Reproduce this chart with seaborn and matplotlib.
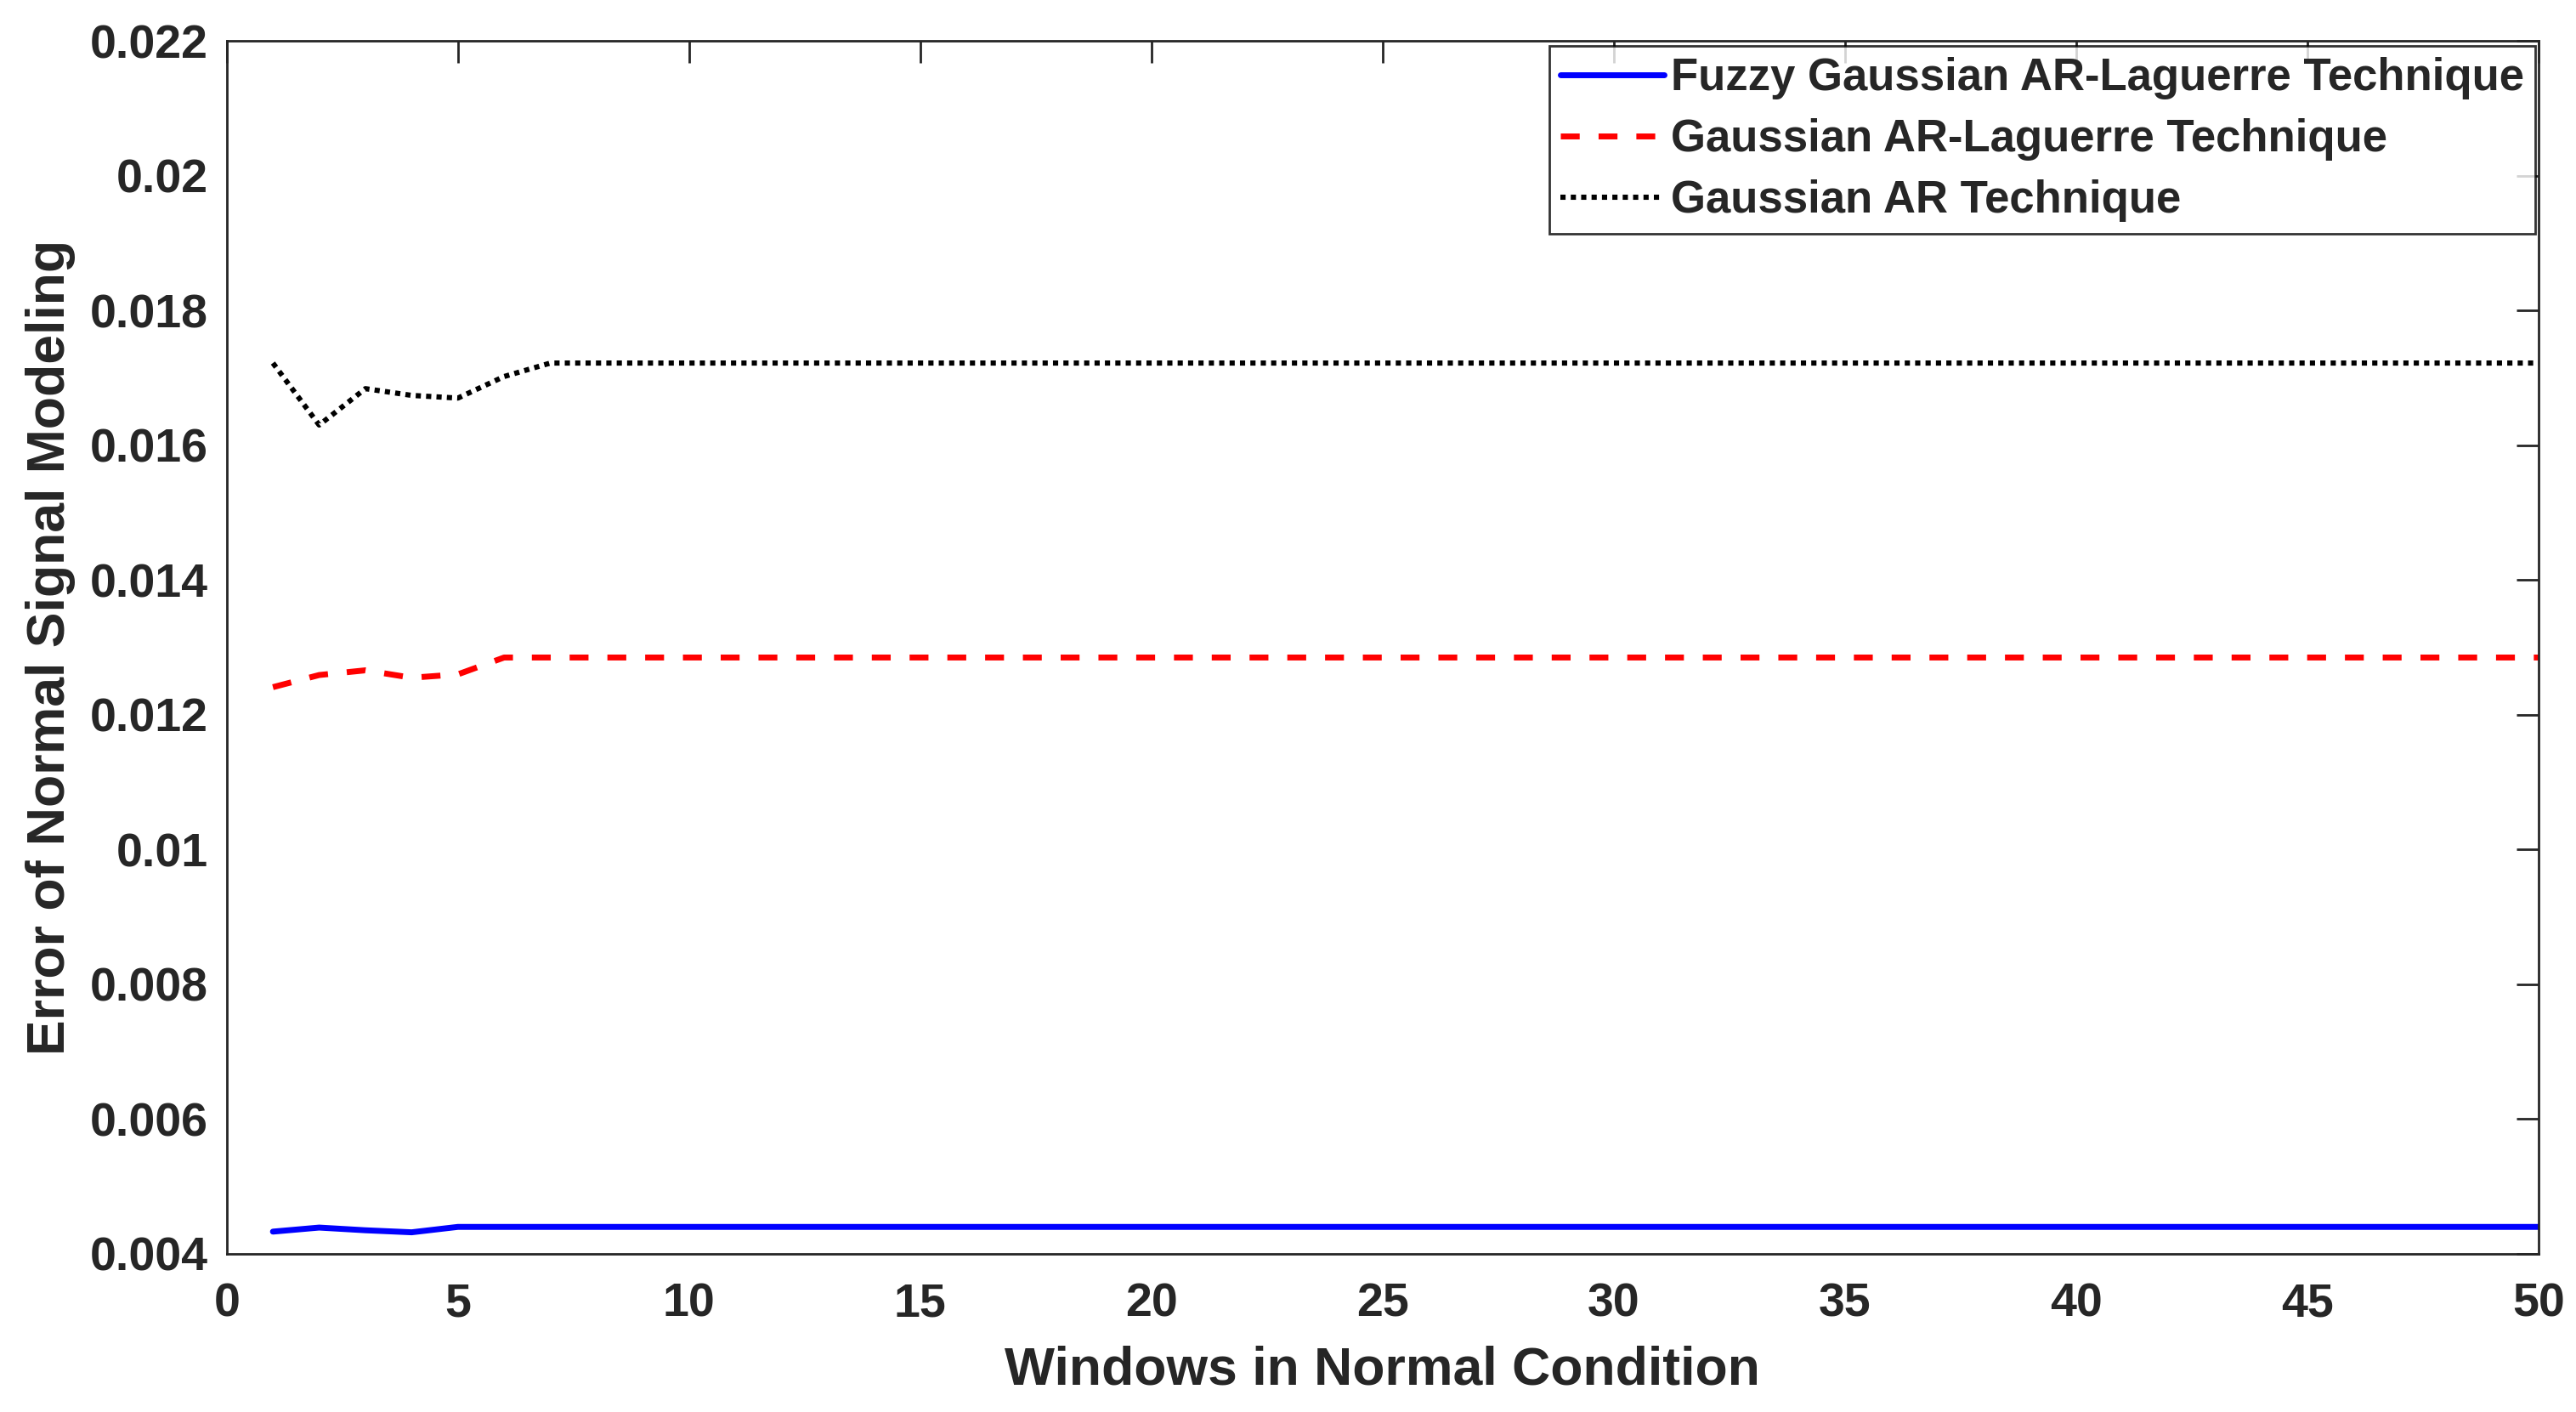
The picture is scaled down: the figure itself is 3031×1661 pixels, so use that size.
import numpy as np
import pandas as pd
import seaborn as sns
import matplotlib.pyplot as plt
from matplotlib.ticker import FormatStrFormatter, MultipleLocator

# Data (windows 1..50)
windows = list(range(1, 51))

fuzzy_gauss_ar_lag = [0.00433, 0.00439, 0.00435, 0.00432, 0.00440, 0.00440, 0.00440, 0.00440, 0.00440, 0.00440,
                      0.00440, 0.00440, 0.00440, 0.00440, 0.00440, 0.00440, 0.00440, 0.00440, 0.00440, 0.00440,
                      0.00440, 0.00440, 0.00440, 0.00440, 0.00440, 0.00440, 0.00440, 0.00440, 0.00440, 0.00440,
                      0.00440, 0.00440, 0.00440, 0.00440, 0.00440, 0.00440, 0.00440, 0.00440, 0.00440, 0.00440,
                      0.00440, 0.00440, 0.00440, 0.00440, 0.00440, 0.00440, 0.00440, 0.00440, 0.00440, 0.00440]

gauss_ar_lag = [0.01241, 0.01259, 0.01266, 0.01255, 0.01260, 0.01285, 0.01285, 0.01285, 0.01285, 0.01285,
                0.01285, 0.01285, 0.01285, 0.01285, 0.01285, 0.01285, 0.01285, 0.01285, 0.01285, 0.01285,
                0.01285, 0.01285, 0.01285, 0.01285, 0.01285, 0.01285, 0.01285, 0.01285, 0.01285, 0.01285,
                0.01285, 0.01285, 0.01285, 0.01285, 0.01285, 0.01285, 0.01285, 0.01285, 0.01285, 0.01285,
                0.01285, 0.01285, 0.01285, 0.01285, 0.01285, 0.01285, 0.01285, 0.01285, 0.01285, 0.01285]

gauss_ar = [0.01722, 0.01630, 0.01684, 0.01674, 0.01670, 0.01702, 0.01722, 0.01722, 0.01722, 0.01722,
            0.01722, 0.01722, 0.01722, 0.01722, 0.01722, 0.01722, 0.01722, 0.01722, 0.01722, 0.01722,
            0.01722, 0.01722, 0.01722, 0.01722, 0.01722, 0.01722, 0.01722, 0.01722, 0.01722, 0.01722,
            0.01722, 0.01722, 0.01722, 0.01722, 0.01722, 0.01722, 0.01722, 0.01722, 0.01722, 0.01722,
            0.01722, 0.01722, 0.01722, 0.01722, 0.01722, 0.01722, 0.01722, 0.01722, 0.01722, 0.01722]

labels = ['Fuzzy Gaussian AR-Laguerre Technique', 'Gaussian AR-Laguerre Technique', 'Gaussian AR Technique']

# Set style, then fonts (set_style resets font.family)
sns.set_style('white')
plt.rcParams['font.family'] = ['Liberation Sans', 'DejaVu Sans']
plt.rcParams['font.weight'] = 'bold'

fig = plt.figure(figsize=(15.155, 8.305), dpi=200)
ax = fig.add_axes([0.088, 0.112, 0.8975, 0.859])

sns.lineplot(x=windows, y=fuzzy_gauss_ar_lag, ax=ax, color='#0000ff', lw=2.5, label=labels[0])
sns.lineplot(x=windows, y=gauss_ar_lag, ax=ax, color='#ff0000', lw=2.5, label=labels[1])
sns.lineplot(x=windows, y=gauss_ar, ax=ax, color='black', lw=2.2, label=labels[2])

ax.lines[1].set_dashes((3.2, 3.2))
ax.lines[2].set_dashes((1.0, 1.0))

ax.set_xlim(0, 50)
ax.set_ylim(0.004, 0.022)
ax.xaxis.set_major_locator(MultipleLocator(5))
ax.yaxis.set_major_locator(MultipleLocator(0.002))
ax.yaxis.set_major_formatter(FormatStrFormatter('%g'))

ax.tick_params(direction='in', length=9.5, width=1.0, top=True, right=True,
               labelsize=20, labelcolor='#262626', color='#262626', pad=8)
ax.tick_params(axis='x', pad=12)
for lab in ax.get_xticklabels() + ax.get_yticklabels():
    lab.set_fontweight('bold')
for sp in ax.spines.values():
    sp.set_color('#262626')
    sp.set_linewidth(1.0)

ax.set_xlabel('Windows in Normal Condition', fontsize=22.5, fontweight='bold', color='#262626', labelpad=8)
ax.set_ylabel('Error of Normal Signal Modeling', fontsize=22.5, fontweight='bold', color='#262626', labelpad=6)

leg = ax.legend(loc='upper right', bbox_to_anchor=(0.9985, 0.996), borderaxespad=0,
                fontsize=19, frameon=True, fancybox=False, handlelength=2.3, handletextpad=0.15,
                borderpad=0.25, labelspacing=0.42)
leg.get_frame().set_edgecolor('black')
leg.get_frame().set_linewidth(1.0)
for t in leg.get_texts():
    t.set_fontweight('bold')

plt.savefig('out.png', dpi=200)
plt.close()
